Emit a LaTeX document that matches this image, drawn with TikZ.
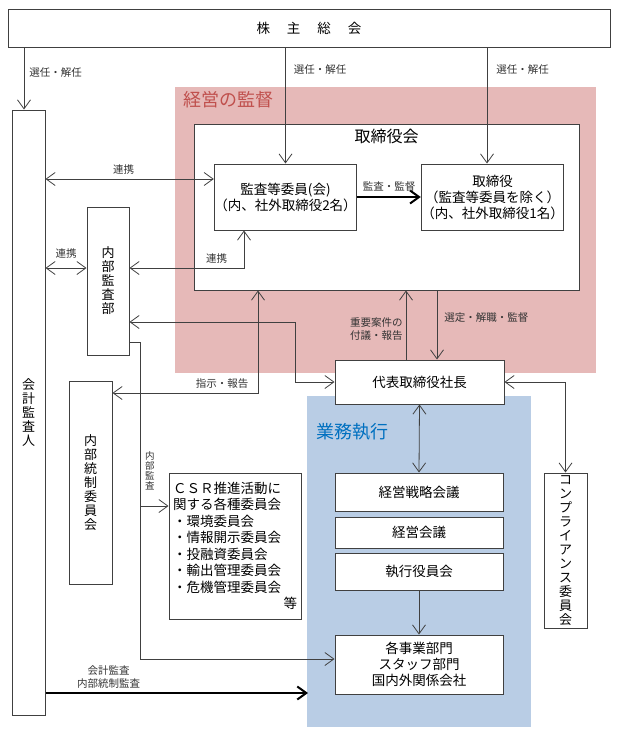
\documentclass[tikz,border=0pt]{standalone}
\usepackage{fontspec}
\setmainfont{Noto Sans CJK JP}
\usetikzlibrary{arrows.meta}
\usetikzlibrary{positioning}
\definecolor{linegray}{HTML}{404040}
\definecolor{kantokuback}{HTML}{E6B9B8}
\definecolor{kantokutext}{HTML}{C0504D}
\definecolor{gyomuback}{HTML}{B9CDE5}
\definecolor{gyomutext}{HTML}{0070C0}
\tikzset{box/.style = {draw=linegray, line width=1pt, fill=white, inner sep=0,
                       align=center, font=\fontsize{13.5}{16}\selectfont}}
\tikzset{tate/.style = {box, font=\fontsize{13}{14}\selectfont}}
\tikzset{lbl/.style = {inner sep=1pt, text=black!80, align=center,
                       font=\fontsize{10.5}{13}\selectfont}}
\tikzset{conn/.style = {draw=linegray, line width=0.8pt}}
\tikzset{heavy/.style = {draw=black, line width=2pt}}
\tikzset{region/.style = {font=\fontsize{18}{20}\selectfont, anchor=west, inner sep=0}}

\begin{document}
\begin{tikzpicture}[x=1pt, y=-1pt, >={Straight Barb[length=9pt,width=13pt]}]
      \useasboundingbox (0,0) rectangle (617,736);

      % background areas
      \fill [kantokuback] (175,87) rectangle (596,373);
      \fill [gyomuback] (307,396) rectangle (531,727);
      \node [region, text=kantokutext] (kantoku) at (183,100) {経営の監督};
      \node [region, text=gyomutext] (gyomu) at (316,432) {業務執行};

      \node [box, minimum width=602, minimum height=38] (sokai) at (309,28)
            {株\hspace{17pt}主\hspace{17pt}総\hspace{17pt}会};
      \node [box, minimum width=385, minimum height=166] (torikai) at (386.5,207) {};
      \node [below=5pt of torikai.north, inner sep=0, font=\fontsize{16}{18}\selectfont]
            (torikaiT) {取締役会};
      \node [box, minimum width=137, minimum height=66] (kansa) at (285.5,197)
            {監査等委員(会)\\（内、社外取締役2名）};
      \node [box, minimum width=141, minimum height=66] (tori) at (492.5,197)
            {取締役\\（監査等委員を除く）\\（内、社外取締役1名）};
      \node [box, minimum width=169, minimum height=44] (daihyo) at (419.5,382) {代表取締役社長};

      \node [tate, minimum width=33, minimum height=605] (kaikei) at (28.5,412.5)
            {会\\計\\監\\査\\人};
      \node [tate, minimum width=42, minimum height=148] (naibu) at (108,281)
            {内\\部\\監\\査\\部};
      \node [tate, minimum width=43, minimum height=203] (tousei) at (90.5,482.5)
            {内\\部\\統\\制\\委\\員\\会};
      \node [tate, minimum width=43, minimum height=155] (comp) at (565.5,550.5)
            {コ\\ン\\プ\\ラ\\イ\\ア\\ン\\ス\\委\\員\\会};
      \node [box, minimum width=132, minimum height=146, text width=124, align=left,
             font=\fontsize{13.5}{16.5}\selectfont] (csr) at (235,546)
            {ＣＳＲ推進活動に\\関する各種委員会\\・環境委員会\\・情報開示委員会\\
             ・投融資委員会\\・輸出管理委員会\\・危機管理委員会\\\hfill 等};

      \node [box, minimum width=168, minimum height=38] (senryaku) at (419,492) {経営戦略会議};
      \node [box, minimum width=168, minimum height=31] (keiei) at (419,532.5) {経営会議};
      \node [box, minimum width=168, minimum height=37] (shikko) at (419,571.5) {執行役員会};
      \node [box, minimum width=168, minimum height=59] (jigyo) at (419,664.5)
            {各事業部門\\スタッフ部門\\国内外関係会社};

      % election by the shareholders
      \draw [conn, ->] ([xshift=-4.5]kaikei.north |- sokai.south) -- ([xshift=-4.5]kaikei.north)
            node [lbl, pos=0.4, right=4pt] {選任・解任};
      \draw [conn, ->] (kansa.north |- sokai.south) -- (kansa.north)
            node [lbl, pos=0.19, right=7pt] {選任・解任};
      \draw [conn, ->] ([xshift=-5.5]tori.north |- sokai.south) -- ([xshift=-5.5]tori.north)
            node [lbl, pos=0.19, right=8pt] {選任・解任};

      \draw [heavy, ->] (kansa.east) -- (tori.west) node [lbl, midway, above=4pt] {監査・監督};

      % cooperation
      \coordinate (kansaIn) at ([yshift=18]kansa.west);
      \coordinate (naibuIn) at ([yshift=13]naibu.west);
      \draw [conn, <->] (kaikei.east |- kansaIn) -- (kansaIn)
            node [lbl, pos=0.465, above=3pt] {連携};
      \draw [conn, <->] (kaikei.east |- naibuIn) -- (naibuIn)
            node [lbl, midway, above=8pt] {連携};
      \draw [conn, <->] ([yshift=13]naibu.east) -| ([xshift=-41.5]kansa.south)
            node [lbl, pos=0.38, above=3pt] {連携};

      \draw [conn, <->] ([yshift=-41]naibu.east) -- ++(166,0) |- (daihyo.west);
      \draw [conn, <->] ([yshift=89.5]tousei.east) -| ([xshift=-128.5]torikai.south)
            node [lbl, pos=0.377, above=3pt] {指示・報告};

      \draw [conn, ->] ([xshift=-13.5]daihyo.north) -- ([xshift=-13.5]daihyo.north |- torikai.south)
            node [lbl, pos=0.44, left=2pt, align=right] {重要案件の\\付議・報告};
      \draw [conn, ->] ([xshift=17.5]daihyo.north |- torikai.south) -- ([xshift=17.5]daihyo.north)
            node [lbl, pos=0.39, right=6pt] {選定・解職・監督};

      % internal audit
      \coordinate (branch) at (140,506);
      \coordinate (naibuOut) at ([yshift=-61]naibu.east);
      \draw [conn, ->] (naibuOut) -- (branch |- naibuOut) |- ([yshift=5.5]jigyo.west);
      \draw [conn, ->] (branch) -- (csr.west |- branch);
      \node [lbl, font=\fontsize{9.5}{10}\selectfont, anchor=south west,
             above right=15pt and 4pt of branch] (naibuL) {内\\部\\監\\査};

      \draw [conn, <->] (daihyo.east) -| (comp.north);
      \draw [conn, <->] (daihyo.south) -- (senryaku.north);
      \draw [conn, ->] (shikko.south) -- (jigyo.north);

      \coordinate (gyomuIn) at (308,693);
      \draw [heavy, ->] (kaikei.east |- gyomuIn) -- (gyomuIn)
            node [lbl, pos=0.24, above=3pt] {会計監査\\内部統制監査};
    \end{tikzpicture}
\end{document}
